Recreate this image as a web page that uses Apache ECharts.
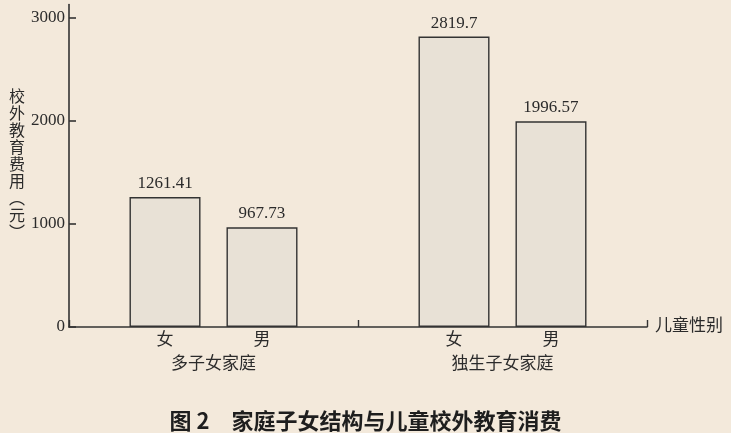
<!DOCTYPE html>
<html>
<head>
<meta charset="utf-8">
<script src="https://cdn.jsdelivr.net/npm/echarts@6/dist/echarts.min.js"></script>
<style>
  html, body { margin: 0; padding: 0; background: #f3e9db; }
  #chart { width: 731px; height: 433px; }
</style>
</head>
<body>
<div id="chart"></div>
<script>
// 数据
var groups = ['多子女家庭', '独生子女家庭'];
var genders = ['女', '男'];
var femaleVals = [1261.41, 2819.7];
var maleVals = [967.73, 1996.57];
var yTicks = [0, 1000, 2000, 3000];

var serif = "'Liberation Serif', 'Noto Sans CJK SC', serif";
var ink = '#2b2b2b';

var myChart = echarts.init(document.getElementById('chart'));

var barStyle = {
  color: '#e8e1d6',
  borderColor: '#333',
  borderWidth: 1.4
};
var valueLabel = {
  show: true,
  position: 'top',
  distance: 5,
  color: ink,
  fontFamily: serif,
  fontSize: 17
};

var option = {
  backgroundColor: '#f3e9db',
  animation: false,
  title: {
    text: '图 2　家庭子女结构与儿童校外教育消费',
    left: 'center',
    top: 405,
    textStyle: {
      color: '#1e1e1e',
      fontFamily: "'Noto Sans CJK SC', sans-serif",
      fontWeight: 'bold',
      fontSize: 22
    }
  },
  grid: {
    left: 69,
    right: 84,
    top: 4.6,
    bottom: 106,
    outerBoundsMode: 'none'
  },
  xAxis: {
    type: 'category',
    data: groups,
    name: '儿童性别',
    nameLocation: 'end',
    nameGap: 8,
    nameTextStyle: {
      color: ink,
      fontFamily: serif,
      fontSize: 17,
      padding: [0, 0, 14, 0]
    },
    axisLine: { lineStyle: { color: '#333', width: 1.6 } },
    axisTick: { show: true, inside: true, length: 7, interval: 0, lineStyle: { color: '#333', width: 1.4 } },
    axisLabel: {
      interval: 0,
      margin: 2,
      color: ink,
      fontFamily: serif,
      formatter: function (v) {
        return '{g|' + genders[0] + '}{sp|}{g|' + genders[1] + '}\n{n|' + v + '}';
      },
      rich: {
        g: { width: 17, align: 'center', fontSize: 17, lineHeight: 24, color: ink, fontFamily: serif },
        sp: { width: 80, lineHeight: 24 },
        n: { fontSize: 17, lineHeight: 24, color: ink, fontFamily: serif }
      }
    }
  },
  yAxis: {
    type: 'value',
    min: 0,
    max: 3130,
    name: '校\n外\n教\n育\n费\n用\n︵\n元\n︶',
    nameLocation: 'middle',
    nameRotate: 0,
    nameGap: 46,
    nameTextStyle: {
      color: ink,
      fontFamily: serif,
      fontSize: 16,
      lineHeight: 17,
      align: 'center',
      padding: [0, 0, 10, 0]
    },
    splitLine: { show: false },
    axisLine: { show: true, lineStyle: { color: '#333', width: 1.6 } },
    axisTick: {
      show: true,
      inside: true,
      length: 7,
      customValues: yTicks,
      lineStyle: { color: '#333', width: 1.6 }
    },
    axisLabel: {
      margin: 4,
      color: ink,
      fontFamily: serif,
      fontSize: 17,
      customValues: yTicks,
      formatter: function (v) { return String(v); }
    }
  },
  series: [
    {
      name: genders[0],
      type: 'bar',
      data: femaleVals,
      barWidth: 71,
      barGap: '36.6%',
      itemStyle: barStyle,
      label: valueLabel
    },
    {
      name: genders[1],
      type: 'bar',
      data: maleVals,
      barWidth: 71,
      barGap: '36.6%',
      itemStyle: barStyle,
      label: valueLabel
    }
  ]
};
myChart.setOption(option, true);
</script>
</body>
</html>
